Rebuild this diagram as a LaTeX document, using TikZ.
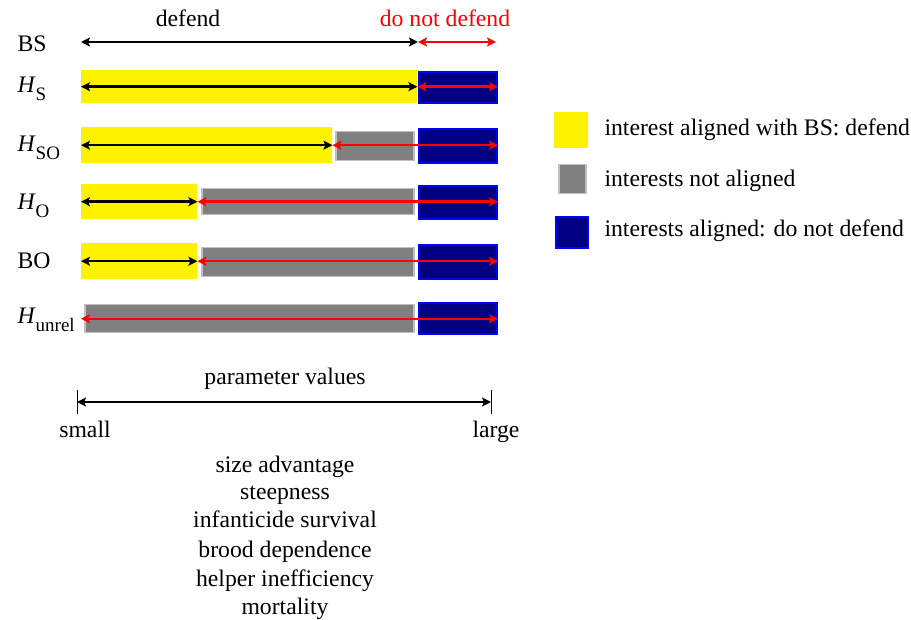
\documentclass[tikz,border=0pt]{standalone}
\usepackage{fontspec}
\setmainfont{Liberation Serif}
\usetikzlibrary{arrows.meta}
\definecolor{navybar}{RGB}{0,0,128}
\tikzstyle{arrow} = [line width=2.4pt,<->,>={Stealth[length=9pt,width=9pt,inset=2pt]}]
\tikzset{
    bar/.style={rectangle, inner sep=0pt, anchor=north west},
    yellowbar/.style={bar, fill=yellow},
    greybar/.style={bar, fill=gray, draw=lightgray, line width=1.5pt},
    bluebar/.style={bar, fill=navybar, draw=blue, line width=2pt},
    rowlabel/.style={anchor=base west},
    listitem/.style={anchor=base}
}
\newcommand{\Hsub}[1]{\textit{H}\raisebox{-0.3em}{\fontsize{19}{19}\selectfont #1}}

\begin{document}
\begin{tikzpicture}[x=1pt, y=-1pt, font=\fontsize{23.7}{28.4}\selectfont]
        \useasboundingbox (0,0) rectangle (911,620);

        % headings
        \node[anchor=base] (hdef) at (188,27) {defend};
        \node[anchor=base, text=red] (hnodef) at (445,27) {do not defend};

        % row labels
        \node[rowlabel] (lBS) at (14,52) {BS};
        \node[rowlabel] (lHS) at (14,93) {\Hsub{S}};
        \node[rowlabel] (lHSO) at (14,152) {\Hsub{SO}};
        \node[rowlabel] (lHO) at (14,210) {\Hsub{O}};
        \node[rowlabel] (lBO) at (14,269) {BO};
        \node[rowlabel] (lHU) at (14,324) {\Hsub{unrel}};

        % BS
        \coordinate (bsL) at (81,42);
        \coordinate (bsM) at (418,42);
        \coordinate (bsR) at (496,42);
        \draw [arrow] (bsL) -- (bsM);
        \draw [arrow, red] (bsM) -- (bsR);

        % H_S
        \node[yellowbar, minimum width=336pt, minimum height=33pt] (yS) at (81,70) {};
        \node[bluebar, minimum width=78pt, minimum height=31pt] (bS) at (418,71) {};
        \draw [arrow] (yS.west) -- (yS.east);
        \draw [arrow, red] (yS.east) -- (yS.east -| bS.east);

        % H_SO
        \node[yellowbar, minimum width=251pt, minimum height=36pt] (ySO) at (81,127) {};
        \node[greybar, minimum width=78pt, minimum height=29pt] (gSO) at (335,131) {};
        \node[bluebar, minimum width=78pt, minimum height=34pt] (bSO) at (418,128) {};
        \draw [arrow] (ySO.west) -- (ySO.east);
        \draw [arrow, red] (ySO.east) -- (ySO.east -| bSO.east);

        % H_O
        \node[yellowbar, minimum width=116pt, minimum height=35pt] (yO) at (81,184) {};
        \node[greybar, minimum width=212pt, minimum height=26pt] (gO) at (201,188) {};
        \node[bluebar, minimum width=78pt, minimum height=33pt] (bO) at (418,185) {};
        \draw [arrow] (yO.west) -- (yO.east);
        \draw [arrow, red] (yO.east) -- (yO.east -| bO.east);

        % BO
        \node[yellowbar, minimum width=116pt, minimum height=36pt] (yBO) at (81,243) {};
        \node[greybar, minimum width=212pt, minimum height=29pt] (gBO) at (201,247) {};
        \node[bluebar, minimum width=78pt, minimum height=34pt] (bBO) at (418,244) {};
        \draw [arrow] (yBO.west) -- (yBO.east);
        \draw [arrow, red] (yBO.east) -- (yBO.east -| bBO.east);

        % H_unrel
        \node[greybar, minimum width=329pt, minimum height=28pt] (gU) at (84,304) {};
        \node[bluebar, minimum width=78pt, minimum height=31pt] (bU) at (418,302) {};
        \draw [arrow, red] ([xshift=-3pt]gU.west) -- (gU.west -| bU.east);

        % legend
        \node[yellowbar, minimum width=34pt, minimum height=36pt] (kY) at (554,112) {};
        \node[greybar, minimum width=27pt, minimum height=29pt] (kG) at (558,164) {};
        \node[bluebar, minimum width=32pt, minimum height=31pt] (kB) at (555,216) {};
        \node[anchor=base west] (tY) at (601,136) {interest aligned with BS: defend};
        \node[anchor=base west] (tG) at (601,187) {interests not aligned};
        \node[anchor=base west] (tB) at (601,237) {interests aligned: do not defend};

        % parameter axis
        \node[anchor=base] (pv) at (285,385) {parameter values};
        \coordinate (pL) at (77,402);
        \coordinate (pR) at (491,402);
        \draw [arrow] (pL) -- (pR);
        \draw [line width=1pt] (pL) ++(0,-12) -- ++(0,24);
        \draw [line width=1pt] (pR) ++(0,-12) -- ++(0,24);
        \node[anchor=base] (small) at (85,438) {small};
        \node[anchor=base] (large) at (496,438) {large};

        % parameters
        \node[listitem] (p1) at (285,472) {size advantage};
        \node[listitem] (p2) at (285,499) {steepness};
        \node[listitem] (p3) at (285,527) {infanticide survival};
        \node[listitem] (p4) at (285,557) {brood dependence};
        \node[listitem] (p5) at (285,586) {helper inefficiency};
        \node[listitem] (p6) at (285,614) {mortality};
\end{tikzpicture}
\end{document}
